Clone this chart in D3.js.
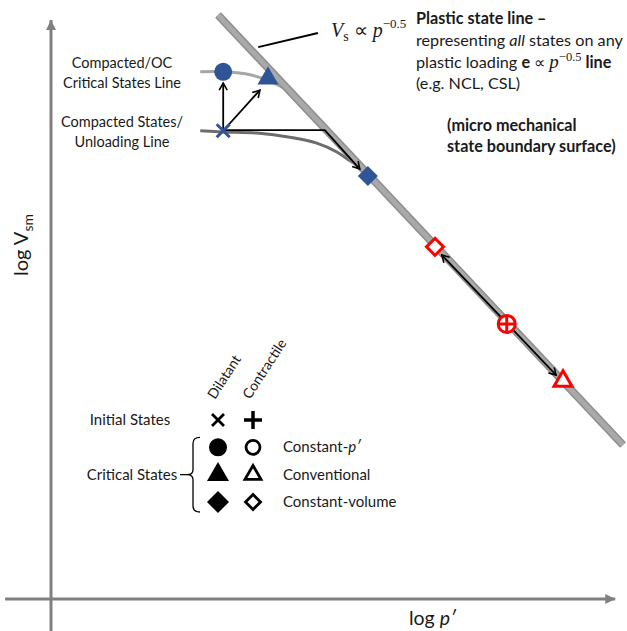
<!DOCTYPE html>
<html><head><meta charset="utf-8">
<script src="https://cdn.jsdelivr.net/npm/d3@7"></script>
<style>body{margin:0;background:#fff}svg{display:block}</style>
</head><body>
<svg id="c" width="627" height="631"></svg>
<script>
// ---- data (log p', log V) in arbitrary chart units ----
const plasticLine = [[2.91, 9.915], [9.965, 2.615]];
const criticalCurve = [[2.60, 8.95], [3.03, 8.95], [3.47, 8.90], [3.82, 8.79], [4.16, 8.62]];
const unloadCurve = [[2.60, 7.95], [3.00, 7.93], [3.59, 7.91], [4.16, 7.84], [4.63, 7.74], [4.98, 7.59], [5.21, 7.44], [5.42, 7.32]];
const initialDilatant = [3.00, 7.95];
const dilatantStates = [
  {shape: "circle", p: 3.00, v: 8.95},
  {shape: "triangle", p: 3.78, v: 8.84},
  {shape: "diamond", p: 5.52, v: 7.18}
];
const initialContractile = [7.94, 4.67];
const contractileStates = [
  {shape: "diamond", p: 6.69, v: 5.98},
  {shape: "triangle", p: 8.92, v: 3.70}
];
const arrowsSingle = [
  [[3.00, 7.95], [3.00, 8.76]],
  [[3.00, 7.95], [3.64, 8.64]],
  [[3.00, 7.96], [4.77, 7.96], [5.38, 7.30]]
];
const arrowDouble = [[6.81, 5.84], [8.80, 3.80]];
const leader = [[3.61, 9.37], [4.65, 9.61]];
const legendRows = ["initial", "constP", "conventional", "constVol"];
const legendLabels = ["", "Constant-", "Conventional", "Constant-volume"];

const svg = d3.select("#c");
const x = d3.scaleLinear().domain([0, 10]).range([51, 625]);
const y = d3.scaleLinear().domain([0, 10]).range([599, 10]);
const line = d3.line().x(d => x(d[0])).y(d => y(d[1]));
const blue = "#2f5597", red = "#ff0000", axisGray = "#808080";

const defs = svg.append("defs");
defs.append("marker").attr("id", "ah").attr("markerUnits", "userSpaceOnUse")
  .attr("viewBox", "-10 -6 12 12").attr("markerWidth", 12).attr("markerHeight", 12)
  .attr("refX", 0).attr("refY", 0).attr("orient", "auto-start-reverse")
  .append("path").attr("d", "M-7,-4 L0,0 L-7,4").attr("fill", "none")
  .attr("stroke", "#000").attr("stroke-width", 1.6);
defs.append("marker").attr("id", "axh").attr("markerUnits", "userSpaceOnUse")
  .attr("viewBox", "-12 -7 14 14").attr("markerWidth", 14).attr("markerHeight", 14)
  .attr("refX", 0).attr("refY", 0).attr("orient", "auto")
  .append("path").attr("d", "M-10,-5 L0,0 L-10,5 Z").attr("fill", axisGray);

// axes
svg.append("line").attr("x1", x(0)).attr("x2", x(0)).attr("y1", y(-0.6)).attr("y2", y(9.83))
  .attr("stroke", axisGray).attr("stroke-width", 3).attr("marker-end", "url(#axh)");
svg.append("line").attr("x1", x(-0.8)).attr("x2", x(9.83)).attr("y1", y(0)).attr("y2", y(0))
  .attr("stroke", axisGray).attr("stroke-width", 3).attr("marker-end", "url(#axh)");

svg.append("text").attr("transform", "translate(28,245) rotate(-90)").attr("text-anchor", "middle")
  .attr("font-family", "Lato").attr("font-size", 20).attr("fill", "#1a1a1a")
  .call(t => { t.append("tspan").text("log V"); t.append("tspan").attr("dy", 5).attr("font-size", 14).text("sm"); });
svg.append("text").attr("x", 409).attr("y", 625).attr("font-family", "Lato").attr("font-size", 19.5).attr("fill", "#1a1a1a")
  .call(t => { t.append("tspan").text("log "); t.append("tspan").attr("font-style", "italic").text("p\u2032"); });

// curves
const curve = d3.line().x(d => x(d[0])).y(d => y(d[1])).curve(d3.curveCatmullRom);
svg.append("path").attr("d", curve(criticalCurve)).attr("fill", "none").attr("stroke", "#a6a6a6").attr("stroke-width", 3);
svg.append("path").attr("d", curve(unloadCurve)).attr("fill", "none").attr("stroke", "#6d6d6d").attr("stroke-width", 3);

// plastic state line
svg.append("path").attr("d", line(plasticLine)).attr("stroke", "#8e8e8e").attr("stroke-width", 8);
svg.append("path").attr("d", line(plasticLine)).attr("stroke", "#a9a9a9").attr("stroke-width", 5);

// leader + label
svg.append("path").attr("d", line(leader)).attr("stroke", "#000").attr("stroke-width", 2);
svg.append("text").attr("x", 331).attr("y", 37).attr("font-family", "Liberation Serif").attr("font-size", 20).attr("fill", "#1a1a1a")
  .call(t => {
    t.append("tspan").attr("font-style", "italic").text("V");
    t.append("tspan").attr("font-size", 14).attr("dy", 4).text("s");
    t.append("tspan").attr("dy", -4).text(" \u221D ");
    t.append("tspan").attr("font-style", "italic").text("p");
    t.append("tspan").attr("font-size", 13).attr("dy", -9).text("\u22120.5");
  });

// arrows
arrowsSingle.forEach(a => svg.append("path").attr("d", line(a)).attr("fill", "none")
  .attr("stroke", "#000").attr("stroke-width", 1.8).attr("marker-end", "url(#ah)"));
svg.append("path").attr("d", line(arrowDouble)).attr("fill", "none")
  .attr("stroke", "#000").attr("stroke-width", 1.8).attr("marker-end", "url(#ah)").attr("marker-start", "url(#ah)");

// markers
function shapePath(shape, s) {
  if (shape === "circle") return d3.symbol(d3.symbolCircle, Math.PI * s * s)();
  if (shape === "triangle") return d3.symbol(d3.symbolTriangle, Math.sqrt(3) / 4 * (2 * s) * (2 * s))();
  return d3.symbol(d3.symbolSquare, 2 * s * s)();
}
function drawMarker(g, shape, cx, cy, s, color, filled, sw) {
  const rot = shape === "diamond" ? " rotate(45)" : "";
  g.append("path").attr("d", shapePath(shape, s)).attr("transform", `translate(${cx},${cy})${rot}`)
    .attr("fill", filled ? color : "#fff").attr("stroke", filled ? "none" : color).attr("stroke-width", sw || 0);
}
function drawCross(g, cx, cy, h, color, sw, plus) {
  const d = plus ? `M${cx - h},${cy} L${cx + h},${cy} M${cx},${cy - h} L${cx},${cy + h}`
                 : `M${cx - h},${cy - h} L${cx + h},${cy + h} M${cx - h},${cy + h} L${cx + h},${cy - h}`;
  g.append("path").attr("d", d).attr("stroke", color).attr("stroke-width", sw).attr("fill", "none");
}
const mk = svg.append("g");
drawCross(mk, x(initialDilatant[0]), y(initialDilatant[1]), 6.5, blue, 3, false);
const sizes = {circle: 9, triangle: 10.5, diamond: 10};
dilatantStates.forEach(d => drawMarker(mk, d.shape, x(d.p), y(d.v), sizes[d.shape], blue, true));
const csizes = {triangle: 9, diamond: 8.5};
contractileStates.forEach(d => drawMarker(mk, d.shape, x(d.p), y(d.v), csizes[d.shape], red, false, 3));
drawMarker(mk, "circle", x(initialContractile[0]), y(initialContractile[1]), 8.5, red, false, 3);
drawCross(mk, x(initialContractile[0]), y(initialContractile[1]), 8.5, red, 3, true);

// text blocks
const font = "Lato", tc = "#1a1a1a";
function txt(xp, yp, anchor, size) {
  return svg.append("text").attr("x", xp).attr("y", yp).attr("text-anchor", anchor)
    .attr("font-family", font).attr("font-size", size).attr("fill", tc);
}
txt(122, 68, "middle", 14.5).text("Compacted/OC");
txt(122, 88, "middle", 14.5).text("Critical States Line");
txt(122, 127, "middle", 14.5).text("Compacted States/");
txt(122, 147, "middle", 14.5).text("Unloading Line");

const rs = 16.2;
txt(416, 24, "start", rs).attr("font-weight", "bold").text("Plastic state line \u2013");
txt(416, 46, "start", rs).call(t => {
  t.append("tspan").text("representing ");
  t.append("tspan").attr("font-style", "italic").text("all");
  t.append("tspan").text(" states on any");
});
txt(416, 68, "start", rs).call(t => {
  t.append("tspan").text("plastic loading ");
  t.append("tspan").attr("font-weight", "bold").text("e");
  t.append("tspan").text(" \u221D ");
  t.append("tspan").attr("font-family", "Liberation Serif").attr("font-style", "italic").attr("font-size", 19).text("p");
  t.append("tspan").attr("font-family", "Liberation Serif").attr("font-size", 12.5).attr("dy", -7).text("\u22120.5");
  t.append("tspan").attr("font-weight", "bold").attr("dy", 7).text(" line");
});
txt(416, 89, "start", rs).text("(e.g. NCL, CSL)");
txt(447, 131, "start", rs).attr("font-weight", "bold").text("(micro mechanical");
txt(447, 152, "start", rs).attr("font-weight", "bold").text("state boundary surface)");

// legend
const colX = [218, 253];
const rowY = d3.scalePoint().domain(legendRows).range([420, 502]);
const lg = svg.append("g");
lg.append("text").attr("transform", `translate(${colX[0] - 3},400) rotate(-57)`).attr("font-family", font)
  .attr("font-size", 14).attr("fill", tc).text("Dilatant");
lg.append("text").attr("transform", `translate(${colX[1] - 3},400) rotate(-57)`).attr("font-family", font)
  .attr("font-size", 14).attr("fill", tc).text("Contractile");
drawCross(lg, colX[0], rowY("initial"), 6, "#000", 2.8, false);
drawCross(lg, colX[1], rowY("initial"), 9, "#000", 3.5, true);
const legShapes = {constP: "circle", conventional: "triangle", constVol: "diamond"};
const legFill = {circle: 9, triangle: 11, diamond: 11};
const legOpen = {circle: 7, triangle: 8, diamond: 7.5};
["constP", "conventional", "constVol"].forEach((r, i) => {
  const sh = legShapes[r];
  drawMarker(lg, sh, colX[0], rowY(r), legFill[sh], "#000", true);
  drawMarker(lg, sh, colX[1], rowY(r), legOpen[sh], "#000", false, 2.8);
  const t = txt(283, rowY(r) + 5, "start", 15).text(legendLabels[i + 1]);
  if (r === "constP") t.append("tspan").attr("font-style", "italic").text("p\u2032");
});
txt(130, rowY("initial") + 5, "middle", 15).text("Initial States");
txt(132, rowY("conventional") + 5, "middle", 15).text("Critical States");
const ty = rowY("constP") - 10, by = rowY("constVol") + 10, my = rowY("conventional");
lg.append("path").attr("d",
  `M200,${ty} Q193,${ty} 193,${ty + 6} L193,${my - 5} Q193,${my} 187,${my} Q193,${my} 193,${my + 5} L193,${by - 6} Q193,${by} 200,${by} M180,${my} L187,${my}`)
  .attr("fill", "none").attr("stroke", "#000").attr("stroke-width", 1.3);
</script>
</body></html>
